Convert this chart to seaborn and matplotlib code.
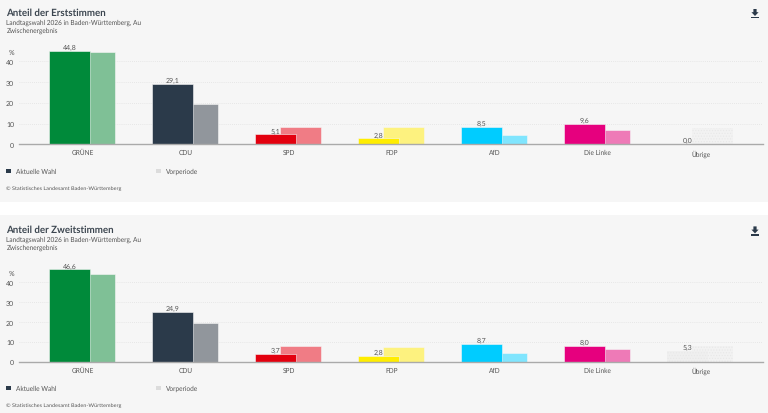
import pandas as pd
import numpy as np
import matplotlib
matplotlib.use("Agg")
import matplotlib.pyplot as plt
from matplotlib.patches import Rectangle, Polygon
import seaborn as sns

parties = ["GRÜNE", "CDU", "SPD", "FDP", "AfD", "Die Linke", "Übrige"]
erst_current = [44.8, 29.1, 5.1, 2.8, 8.5, 9.6, 0.0]
erst_previous = [44.4, 19.3, 8.2, 8.2, 4.7, 6.7, 8.0]
zweit_current = [46.6, 24.9, 3.7, 2.8, 8.7, 8.0, 5.3]
zweit_previous = [44.3, 19.5, 8.1, 7.6, 4.5, 6.6, 7.9]
colors_current = ["#008a3a", "#2b3a4a", "#e3000f", "#ffed00", "#00ccff", "#e6007e", "#efefef"]
colors_previous = ["#7fc096", "#91969c", "#f07c85", "#fdf27f", "#80e5fe", "#ee7ab7", "#f2f2f2"]
y_ticks = [0, 10, 20, 30, 40]

W, H = 768, 414
BG = "#f6f6f6"
TEXT = "#555555"

sns.set_theme(style="white")
plt.rcParams["font.family"] = ["Lato", "DejaVu Sans"]
plt.rcParams["hatch.linewidth"] = 0.5
plt.rcParams["text.hinting"] = "none"

fig = plt.figure(figsize=(W / 100, H / 100), dpi=100, facecolor="white")


def add_rect(x, y, w, h, color, zorder=2):
    # pixel box, y counted from the top of the image
    fig.add_artist(Rectangle((x / W, 1 - (y + h) / H), w / W, h / H,
                             transform=fig.transFigure, color=color, lw=0, zorder=zorder))


def add_text(x, y, s, **kw):
    fig.text(x / W, 1 - y / H, s, va="center", **kw)


def add_icon(x, y):
    # download arrow, centre at x, top at y
    pts = [(-1.6, 0), (1.6, 0), (1.6, 3.2), (3.6, 3.2), (0, 7), (-3.6, 3.2), (-1.6, 3.2)]
    fig.add_artist(Polygon([((x + a) / W, 1 - (y + b) / H) for a, b in pts],
                           transform=fig.transFigure, color="#2b3a4a", lw=0))
    add_rect(x - 3.8, y + 8, 7.6, 1.2, "#2b3a4a")


def draw_panel(top, bottom, base_y, px_per_10, title, current, previous):
    add_rect(0, top, W, bottom - top, BG, zorder=-1)

    add_text(6.5, base_y - 132.6, title, fontsize=7, fontweight="bold", color="#3c4650")
    add_text(6.5, base_y - 122.6, "Landtagswahl 2026 in Baden-Württemberg, Au", fontsize=4.7, color=TEXT)
    add_text(6.5, base_y - 115, "Zwischenergebnis", fontsize=4.7, color=TEXT)
    add_icon(755, base_y - 135.3)

    # plot area
    y_max = 50
    ax_h = px_per_10 * y_max / 10
    ax = fig.add_axes([19 / W, 1 - base_y / H, (763.3 - 19) / W, ax_h / H])
    ax.patch.set_alpha(0)

    pos = np.arange(len(parties))
    df_prev = pd.DataFrame({"pos": pos + 0.118, "value": previous, "partei": parties})
    df_cur = pd.DataFrame({"pos": pos - 0.128, "value": current, "partei": parties})
    sns.barplot(data=df_prev, x="pos", y="value", hue="partei", palette=colors_previous,
                native_scale=True, width=0.398, dodge=False, legend=False, saturation=1,
                edgecolor=BG, linewidth=0.4, ax=ax)
    n_prev = len(ax.containers)
    sns.barplot(data=df_cur, x="pos", y="value", hue="partei", palette=colors_current,
                native_scale=True, width=0.398, dodge=False, legend=False, saturation=1,
                edgecolor=BG, linewidth=0.4, ax=ax)

    # Übrige bars are dotted
    for cont in (ax.containers[n_prev - 1], ax.containers[-1]):
        for bar in cont:
            bar.set_hatch("......")
            bar.set_edgecolor("#e8e8e8")
            bar.set_linewidth(0)

    # value labels over the current bars
    for cont, v in zip(ax.containers[n_prev:], current):
        ax.bar_label(cont, labels=[f"{v:.1f}".replace(".", ",")], padding=0.5,
                     fontsize=5, color=TEXT)

    ax.set_xlim(-0.618, 6.608)
    ax.set_ylim(0, y_max)
    ax.set_xticks(pos, parties)
    ax.set_yticks(y_ticks)
    ax.set_xlabel("")
    ax.set_ylabel("")
    ax.tick_params(axis="x", length=0, pad=3.5, labelsize=4.7, labelcolor=TEXT)
    ax.tick_params(axis="y", length=0, pad=3.5, labelsize=5, labelcolor=TEXT)
    ax.grid(axis="y", color="#e2e2e2", linestyle=(0, (1, 1.5)), linewidth=0.6)
    ax.set_axisbelow(True)
    sns.despine(ax=ax, left=True, top=True, right=True)
    ax.spines["bottom"].set_color("#aaaaaa")
    ax.spines["bottom"].set_linewidth(1)

    add_text(11, base_y - px_per_10 * 4 - 9.5, "%", fontsize=5, color=TEXT, ha="center")

    # legend row
    leg_y = base_y + 26.5
    add_rect(6.2, leg_y - 2.2, 5.2, 4.4, "#2b3a4a")
    add_text(16.5, leg_y, "Aktuelle Wahl", fontsize=4.7, color=TEXT)
    add_rect(155.5, leg_y - 2.2, 5.2, 4.4, "#dcdcdc")
    add_text(165.5, leg_y, "Vorperiode", fontsize=4.7, color=TEXT)

    add_text(6.5, base_y + 43.5, "© Statistisches Landesamt Baden-Württemberg",
             fontsize=3.95, color=TEXT)


draw_panel(0, 203, 145.3, 20.75, "Anteil der Erststimmen", erst_current, erst_previous)
draw_panel(216, 414, 362.7, 19.85, "Anteil der Zweitstimmen", zweit_current, zweit_previous)

fig.savefig("out.png", dpi=100)
